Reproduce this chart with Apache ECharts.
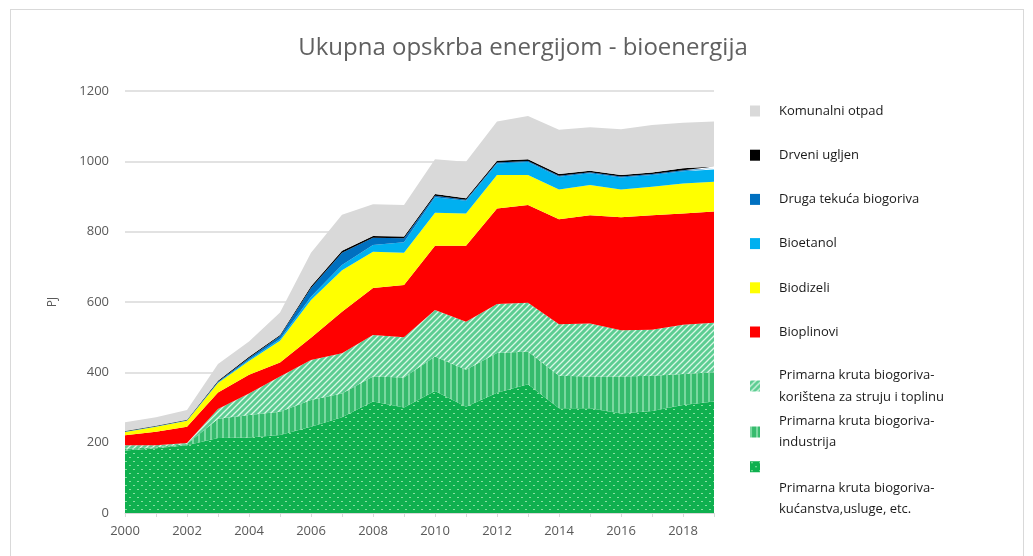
<!DOCTYPE html>
<html>
<head>
<meta charset="utf-8">
<script src="https://cdn.jsdelivr.net/npm/echarts@6/dist/echarts.min.js"></script>
<style>
html,body{margin:0;padding:0;background:#fff;}
#frame{position:absolute;left:10px;top:9px;width:1014px;height:560px;border:1px solid #d9d9d9;box-sizing:border-box;}
#chart{position:absolute;left:0;top:0;width:1033px;height:556px;}
</style>
</head>
<body>
<div id="frame"></div>
<div id="chart"></div>
<script>
const years = ['2000','2001','2002','2003','2004','2005','2006','2007','2008','2009','2010','2011','2012','2013','2014','2015','2016','2017','2018','2019'];
const kucanstva = [178,184,193,213,215,222,245,272,317,300,347,302,342,366,298,298,283,290,307,317];
const industrija = [5,3,3,55,64,66,76,68,71,85,98,105,113,93,92,90,105,100,88,83];
const koristena = [10,6,3,28,61,100,114,114,118,115,132,137,139,139,147,151,132,131,140,141];
const bioplinovi = [28,38,46,47,53,40,63,118,134,148,183,216,272,278,298,308,321,326,317,316];
const biodizeli = [9,14,17,27,39,62,108,118,103,92,94,92,95,85,85,86,79,81,85,85];
const bioetanol = [1,1,1,1,4,5,9,15,19,30,44,36,33,37,36,33,34,33,35,35];
const drugaTekuca = [1,1,1,2,5,8,25,35,21,11,4,3,3,3,3,3,3,3,3,3];
const drveniUgljen = [1,1,1,3,3,3,5,6,5,5,5,4,5,5,5,4,4,4,5,5];
const komunalni = [25,24,28,48,44,64,95,102,90,90,99,104,111,123,126,124,130,135,130,128];
const yTicks = [0,200,400,600,800,1000,1200];

const names = {
  kom: 'Komunalni otpad',
  drv: 'Drveni ugljen',
  drg: 'Druga tekuća biogoriva',
  bet: 'Bioetanol',
  bdz: 'Biodizeli',
  bpl: 'Bioplinovi',
  kor: 'Primarna kruta biogoriva-korištena za struju i toplinu',
  ind: 'Primarna kruta biogoriva-industrija',
  kuc: 'Primarna kruta biogoriva-kućanstva,usluge, etc.'
};

function pattern(w, h, draw) {
  const c = document.createElement('canvas');
  c.width = w; c.height = h;
  const ctx = c.getContext('2d');
  draw(ctx, w, h);
  return { image: c, repeat: 'repeat' };
}
const dotPat = pattern(8, 8, (ctx) => {
  ctx.fillStyle = '#0fb04f'; ctx.fillRect(0, 0, 8, 8);
  ctx.fillStyle = 'rgba(150,230,170,0.9)';
  ctx.fillRect(1, 1, 2, 1);
  ctx.fillRect(5, 5, 2, 1);
});
const vertPat = pattern(6, 6, (ctx) => {
  ctx.fillStyle = '#36bb6d'; ctx.fillRect(0, 0, 6, 6);
  ctx.fillStyle = 'rgba(130,220,165,0.9)';
  ctx.fillRect(0, 0, 2, 6);
});
const diagPat = pattern(6, 6, (ctx) => {
  ctx.fillStyle = '#5ccd92'; ctx.fillRect(0, 0, 6, 6);
  ctx.strokeStyle = 'rgba(225,250,235,0.95)';
  ctx.lineWidth = 1.3;
  ctx.beginPath();
  ctx.moveTo(-1, 7); ctx.lineTo(7, -1);
  ctx.moveTo(-1, 1); ctx.lineTo(1, -1);
  ctx.moveTo(5, 7); ctx.lineTo(7, 5);
  ctx.stroke();
});

function area(name, data, color) {
  return {
    name: name, type: 'line', stack: 'total', data: data,
    symbol: 'none', smooth: false,
    lineStyle: { width: 0, color: color },
    itemStyle: { color: color },
    areaStyle: { color: color, opacity: 1 },
    emphasis: { disabled: true }
  };
}

const chart = echarts.init(document.getElementById('chart'), null, { renderer: 'canvas' });
const font = "'Open Sans', 'Noto Sans', sans-serif";
const legendBase = {
  orient: 'vertical', left: 745, icon: 'rect', itemWidth: 10, itemHeight: 11,
  selectedMode: false,
  textStyle: { fontFamily: font, fontSize: 13, color: '#1a1a1a', padding: [0, 0, 0, 14] }
};

chart.setOption({
  animation: false,
  backgroundColor: 'transparent',
  title: {
    text: 'Ukupna opskrba energijom - bioenergija',
    left: 518, textAlign: 'center', top: 31,
    textStyle: { fontFamily: font, fontSize: 24, fontWeight: 'normal', color: '#606060' }
  },
  legend: [
    Object.assign({}, legendBase, {
      top: 98, itemGap: 28.2,
      data: [names.kom, names.drv, names.drg, names.bet, names.bdz, names.bpl],
      textStyle: Object.assign({}, legendBase.textStyle, { lineHeight: 16 })
    }),
    Object.assign({}, legendBase, {
      top: 359, data: [names.kor],
      formatter: () => 'Primarna kruta biogoriva-\nkorištena za struju i toplinu',
      textStyle: Object.assign({}, legendBase.textStyle, { lineHeight: 22 })
    }),
    Object.assign({}, legendBase, {
      top: 406, data: [names.ind],
      formatter: () => 'Primarna kruta biogoriva-\nindustrija',
      textStyle: Object.assign({}, legendBase.textStyle, { lineHeight: 21 })
    }),
    Object.assign({}, legendBase, {
      top: 408, data: [names.kuc],
      formatter: () => '\n\n\nPrimarna kruta biogoriva-\nkućanstva,usluge, etc.',
      textStyle: Object.assign({}, legendBase.textStyle, { lineHeight: 21.5 })
    })
  ],
  grid: { left: 125, right: 319, top: 91, bottom: 43, containLabel: false },
  xAxis: {
    type: 'category', data: years, boundaryGap: false,
    axisLine: { lineStyle: { color: '#d9d9d9' } },
    axisTick: { show: true, interval: 0, length: 4, lineStyle: { color: '#d9d9d9' } },
    axisLabel: { interval: 1, fontFamily: font, fontSize: 13, color: '#595959', margin: 12 },
    splitLine: { show: false }
  },
  yAxis: {
    type: 'value', min: yTicks[0], max: yTicks[yTicks.length - 1], interval: 200,
    name: 'PJ', nameLocation: 'middle', nameGap: 66, nameRotate: 90,
    nameTextStyle: { fontFamily: font, fontSize: 12, color: '#595959' },
    axisLine: { show: false }, axisTick: { show: false },
    axisLabel: { fontFamily: font, fontSize: 13, color: '#595959', margin: 16, formatter: (v) => String(v) },
    splitLine: { lineStyle: { color: '#d9d9d9', width: 1.5 } }
  },
  series: [
    area(names.kuc, kucanstva, dotPat),
    area(names.ind, industrija, vertPat),
    area(names.kor, koristena, diagPat),
    area(names.bpl, bioplinovi, '#ff0000'),
    area(names.bdz, biodizeli, '#ffff00'),
    area(names.bet, bioetanol, '#00b0f0'),
    area(names.drg, drugaTekuca, '#0070c0'),
    area(names.drv, drveniUgljen, '#000000'),
    area(names.kom, komunalni, '#d9d9d9')
  ]
});
</script>
</body>
</html>
